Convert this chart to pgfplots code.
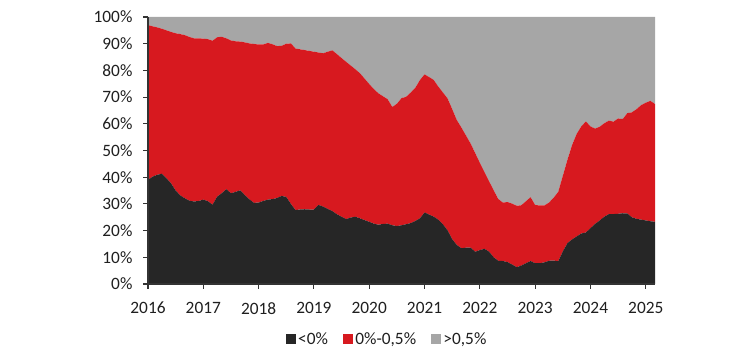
\documentclass[border=0pt]{standalone}
\usepackage{pgfplots}
\usepackage{pgfplotstable}
\usepackage{fontspec}
\setmainfont{Carlito}
\pgfplotsset{compat=1.18}
\definecolor{cneg}{HTML}{262626}
\definecolor{cmid}{HTML}{D7191F}
\definecolor{cpos}{HTML}{A6A6A6}
\pgfplotstableread{
m neg mid pos
0 39.0 58.0 3.0
1 40.2 56.3 3.5
2 40.9 55.2 3.9
3 41.3 54.3 4.4
4 39.6 55.4 5.0
5 37.7 56.7 5.6
6 35.0 58.9 6.1
7 33.2 60.4 6.4
8 32.1 61.1 6.8
9 31.2 61.3 7.5
10 30.9 61.1 8.0
11 31.1 60.9 8.0
12 31.6 60.3 8.1
13 31.0 60.7 8.3
14 29.7 61.4 8.9
15 32.7 59.7 7.6
16 34.0 58.6 7.4
17 35.5 56.5 8.0
18 34.0 57.2 8.8
19 34.5 56.4 9.1
20 35.1 55.7 9.2
21 33.3 57.2 9.5
22 31.7 58.4 9.9
23 30.4 59.5 10.1
24 30.5 59.2 10.3
25 31.1 58.6 10.3
26 31.6 58.7 9.7
27 31.8 58.0 10.2
28 32.2 56.9 10.9
29 33.0 56.2 10.8
30 32.6 57.4 10.0
31 30.0 60.1 9.9
32 27.7 60.5 11.8
33 27.9 60.0 12.1
34 28.0 59.6 12.4
35 27.9 59.4 12.7
36 27.9 59.1 13.0
37 29.6 57.1 13.3
38 29.0 57.4 13.6
39 28.1 58.9 13.0
40 27.3 60.2 12.5
41 26.1 60.0 13.9
42 25.2 59.4 15.4
43 24.3 58.9 16.8
44 24.9 56.9 18.2
45 25.2 55.2 19.6
46 24.6 54.3 21.1
47 23.9 53.0 23.1
48 23.3 51.6 25.1
49 22.6 50.4 27.0
50 22.2 49.2 28.6
51 22.5 47.8 29.7
52 22.6 46.6 30.8
53 22.0 44.3 33.7
54 21.7 45.8 32.5
55 22.0 47.6 30.4
56 22.4 47.7 29.9
57 22.8 48.9 28.3
58 23.6 49.9 26.5
59 24.6 51.8 23.6
60 26.8 51.7 21.5
61 26.0 51.5 22.5
62 25.2 51.2 23.6
63 24.1 49.8 26.1
64 22.3 49.4 28.3
65 20.1 49.4 30.5
66 16.8 48.7 34.5
67 14.6 46.8 38.6
68 13.4 45.2 41.4
69 13.6 42.0 44.4
70 13.6 39.0 47.4
71 12.1 36.9 51.0
72 12.7 32.7 54.6
73 13.2 28.7 58.1
74 12.1 26.4 61.5
75 10.0 25.1 64.9
76 8.7 23.1 68.2
77 8.6 21.9 69.5
78 8.2 22.5 69.3
79 7.3 22.8 69.9
80 6.3 23.0 70.7
81 6.9 22.6 70.5
82 7.8 23.2 69.0
83 8.6 23.9 67.5
84 7.8 21.8 70.4
85 7.8 21.6 70.6
86 8.1 21.3 70.6
87 8.7 21.8 69.5
88 8.8 23.5 67.7
89 8.5 26.0 65.5
90 12.2 28.3 59.5
91 15.3 31.2 53.5
92 16.7 35.3 48.0
93 17.8 38.4 43.8
94 18.9 40.1 41.0
95 19.3 41.6 39.1
96 20.9 38.1 41.0
97 22.5 35.7 41.8
98 23.8 35.1 41.1
99 25.2 35.0 39.8
100 26.2 35.0 38.8
101 26.2 34.6 39.2
102 26.3 35.7 38.0
103 26.5 35.3 38.2
104 26.4 37.6 36.0
105 25.0 39.3 35.7
106 24.4 41.1 34.5
107 24.1 42.9 33.0
108 23.8 44.1 32.1
109 23.5 45.1 31.4
110 23.3 44.1 32.6
}\datatable
\begin{document}
\begin{tikzpicture}
\useasboundingbox (0pt,0pt) rectangle (562.5pt,270pt);
\begin{axis}[
  at={(111pt,57pt)}, anchor=south west,
  scale only axis, width=380.25pt, height=200.25pt,
  xmin=0, xmax=110, ymin=0, ymax=100,
  stack plots=y, area style,
  axis x line*=bottom, axis y line*=left,
  axis line style={draw=black!80, line width=0.8pt},
  tick style={draw=black!80, line width=0.8pt},
  tick align=outside, major tick length=3.5pt,
  xtick={0,12,24,36,48,60,72,84,96,108},
  xticklabels={2016,2017,2018,2019,2020,2021,2022,2023,2024,2025},
  ytick={0,10,20,30,40,50,60,70,80,90,100},
  yticklabels={0\%,10\%,20\%,30\%,40\%,50\%,60\%,70\%,80\%,90\%,100\%},
  ticklabel style={font=\fontsize{13pt}{15pt}\selectfont, text=black!88},
  xticklabel style={inner sep=0pt, yshift=-10pt},
  yticklabel style={inner sep=0pt, xshift=-8pt},
  /pgf/number format/assume math mode=true,
  legend style={at={(0.472,-0.207)}, anchor=center, draw=none, fill=none,
    legend columns=-1, font=\fontsize{13pt}{15pt}\selectfont, text=black!88,
    nodes={inner sep=1.5pt},
    /tikz/every even column/.append style={column sep=10pt}},
  legend image code/.code={\fill[#1] (0pt,-3.75pt) rectangle (7.5pt,3.75pt);},
  clip=false,
]
\addplot[draw=none, fill=cneg] table[x=m, y=neg] {\datatable} \closedcycle;
\addlegendentry{<0\%}
\addplot[draw=none, fill=cmid] table[x=m, y=mid] {\datatable} \closedcycle;
\addlegendentry{0\%-0,5\%}
\addplot[draw=none, fill=cpos] table[x=m, y=pos] {\datatable} \closedcycle;
\addlegendentry{>0,5\%}
\end{axis}
\end{tikzpicture}
\end{document}
